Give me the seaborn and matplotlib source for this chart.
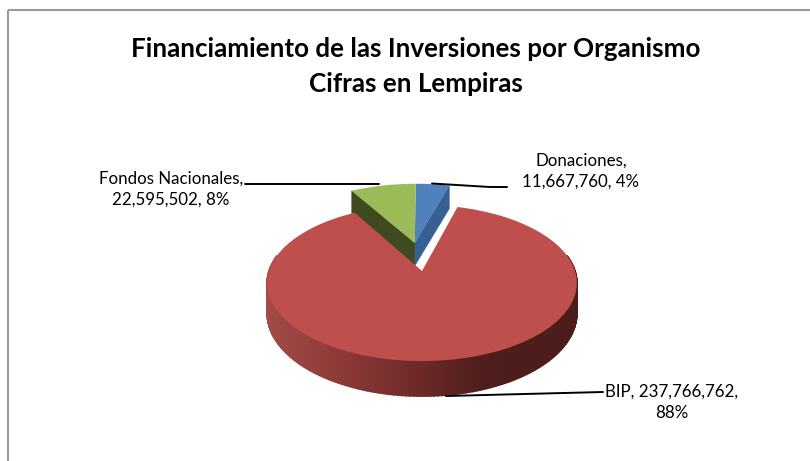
import numpy as np
import matplotlib
matplotlib.use('Agg')
import matplotlib.pyplot as plt
from matplotlib.patches import Rectangle
from matplotlib.transforms import Transform
from matplotlib.colors import to_rgb
import seaborn as sns

# Data
names = ['Donaciones', 'BIP', 'Fondos Nacionales']
values = [11667760, 237766762, 22595502]
pct_labels = ['4%', '88%', '8%']
title_text = 'Financiamiento de las Inversiones por Organismo\nCifras en Lempiras'

top_colors = sns.color_palette(['#4F81BD', '#BE4F4C', '#9BBB59'])
wall_blue = '#376092'
wall_green = '#3F4B1F'

sns.set_theme(style='white')
plt.rcParams['font.family'] = ['Lato', 'DejaVu Sans']


# tilts the flat pie so it looks like the perspective pie of the original
class Tilt(Transform):
    input_dims = 2
    output_dims = 2
    k = 0.154

    def transform_non_affine(self, xy):
        xy = np.asarray(xy, dtype=float)
        w = 1 + self.k * xy[:, 1]
        return np.column_stack([422 + 153 * xy[:, 0] / w, 271 - 76.2 * xy[:, 1] / w])


tilt = Tilt()


def rim(wedge, angle):
    a = np.radians(angle)
    cx, cy = wedge.center
    return np.array([[cx, cy], [cx + np.cos(a), cy + np.sin(a)]])


fig = plt.figure(figsize=(8.1, 4.61), dpi=100)
ax = fig.add_axes([0, 0, 1, 1])

wedges, _ = ax.pie(values, startangle=90, counterclock=False, wedgeprops={'linewidth': 0})
ax.set_aspect('auto')
ax.set_xlim(0, 810)
ax.set_ylim(461, 0)
ax.axis('off')

blue, red, green = wedges
blue.set_center((-0.05, 0.39))
green.set_center((-0.05, 0.39))

# chart frame, runs off the right and bottom edges
ax.add_patch(Rectangle((8, 10.5), 900, 600, fill=False, edgecolor='#9A9A9A', lw=1.5, zorder=1))

# cut faces of the pulled out slices
for wedge, angle, col in [(blue, blue.theta1, wall_blue), (green, green.theta2, wall_green)]:
    p = tilt.transform(rim(wedge, angle))
    face = np.array([p[0], p[1], p[1] + [0, 23], p[0] + [0, 23]])
    ax.fill(face[:, 0], face[:, 1], color=col, lw=0.3, zorder=2)

# side of the big slice, shaded left to right
shade_x = [267, 350, 417, 483, 578]
shade_c = np.array([to_rgb(c) for c in ['#A24B47', '#8A3836', '#6E2A28', '#4F1E1C', '#4A1C1A']])
angles = np.linspace(168, 372, 161)
a = np.radians(angles)
circle = np.column_stack([np.cos(a), np.sin(a)])
edge = tilt.transform(circle)
drop = 29.6 / (1 + Tilt.k * circle[:, 1])
for i in range(len(angles) - 1):
    xs = [edge[i, 0], edge[i + 1, 0], edge[i + 1, 0], edge[i, 0]]
    ys = [edge[i, 1], edge[i + 1, 1], edge[i + 1, 1] + drop[i + 1], edge[i, 1] + drop[i]]
    mid = (edge[i, 0] + edge[i + 1, 0]) / 2
    col = [np.interp(mid, shade_x, shade_c[:, j]) for j in range(3)]
    ax.fill(xs, ys, color=col, lw=1.2, zorder=3)

# top faces
for wedge, col, z in [(blue, top_colors[0], 4), (green, top_colors[2], 4), (red, top_colors[1], 5)]:
    wedge.set_facecolor(col)
    wedge.set_transform(tilt + ax.transData)
    wedge.set_clip_on(False)
    wedge.set_zorder(z)

# title
ax.text(416, 66.5, title_text, ha='center', va='center', fontsize=18.7, fontweight='bold',
        color='black', linespacing=1.55, zorder=6)

# leader lines
ax.plot([245, 379], [184, 184], color='black', lw=1.4, zorder=6)
ax.plot([432, 490, 507], [183.5, 187, 187], color='black', lw=1.4, zorder=6)
ax.plot([446, 603], [396, 392], color='black', lw=1.4, zorder=6)

# labels
lab_fs = 12.2
ax.text(581, 171, f'{names[0]},\n{values[0]:,}, {pct_labels[0]}', ha='center', va='center',
        fontsize=lab_fs, color='black', linespacing=1.4, zorder=6)
ax.text(171, 189, f'{names[2]},\n{values[2]:,}, {pct_labels[2]}', ha='center', va='center',
        fontsize=lab_fs, color='black', linespacing=1.4, zorder=6)
ax.text(672, 402, f'{names[1]}, {values[1]:,},\n{pct_labels[1]}', ha='center', va='center',
        fontsize=lab_fs, color='black', linespacing=1.4, zorder=6)

fig.savefig('out.png', dpi=100)
